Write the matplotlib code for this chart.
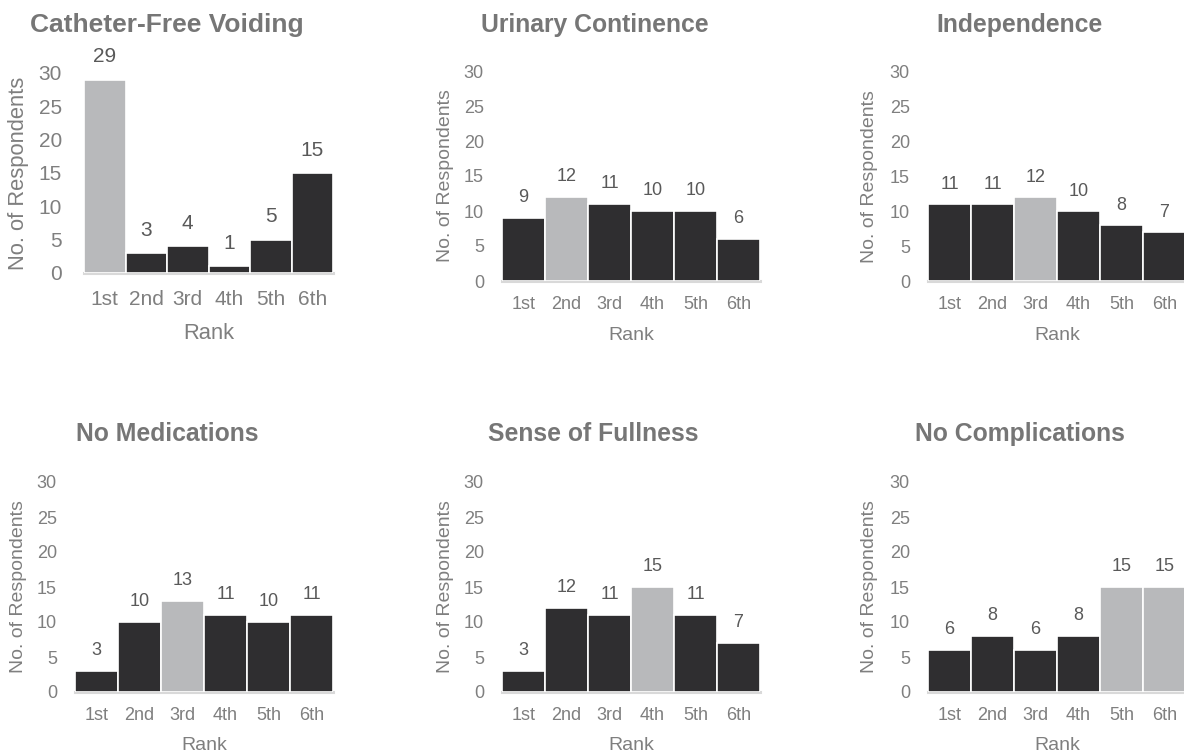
import numpy as np
import matplotlib
matplotlib.use('Agg')
import matplotlib.pyplot as plt

plt.rcParams['font.family'] = ['Liberation Sans', 'DejaVu Sans']

ranks = ['1st', '2nd', '3rd', '4th', '5th', '6th']
titles = ['Catheter-Free Voiding', 'Urinary Continence', 'Independence',
          'No Medications', 'Sense of Fullness', 'No Complications']
catheter = [29, 3, 4, 1, 5, 15]
continence = [9, 12, 11, 10, 10, 6]
independence = [11, 11, 12, 10, 8, 7]
medications = [3, 10, 13, 11, 10, 11]
fullness = [3, 12, 11, 15, 11, 7]
complications = [6, 8, 6, 8, 15, 15]
# which ranks are drawn in light grey
highlight = [[0], [1], [2], [2], [3], [4, 5]]
series = [catheter, continence, independence, medications, fullness, complications]

W, H = 1184, 754
DARK = '#2f2e30'
LIGHT = '#b8b9bb'
TXT = '#7f7f7f'
TITLE = '#767676'
VAL = '#595959'

# panel boxes in pixels: left, right, baseline y, y of 30
boxes = [(84, 333, 273, 73), (502, 760, 281, 71), (928, 1186, 281, 72),
         (75, 333, 692, 482), (502, 760, 692, 482), (928, 1186, 692, 482)]
# title centre, ylabel x
title_pos = [(167, 25), (595, 25), (1020, 25), (167, 434), (593, 434), (1020, 434)]
ylab_x = [19, 445, 870, 19, 445, 870]

fig = plt.figure(figsize=(W / 100, H / 100), dpi=100)

def fx(x):
    return x / W

def fy(y):
    return 1 - y / H

for k in range(6):
    l, r, y0, y30 = boxes[k]
    big = (k == 0)
    tick_fs = 15 if big else 13
    lab_fs = 15.8 if big else 14
    ax = fig.add_axes([fx(l), fy(y0), (r - l) / W, (y0 - y30) / H])
    vals = series[k]
    cols = [LIGHT if i in highlight[k] else DARK for i in range(6)]
    x = np.arange(6)
    ax.bar(x, vals, width=1.0, color=cols, edgecolor='white', linewidth=1.2, zorder=2)
    ax.axhline(0, color='#d9d9d9', lw=2.2, zorder=1, clip_on=False)
    ax.set_xlim(-0.5, 5.5)
    ax.set_ylim(0, 30)
    ax.set_yticks(range(0, 31, 5))
    ax.set_xticks(x)
    ax.set_xticklabels(ranks)
    for sp in ax.spines.values():
        sp.set_visible(False)
    ax.tick_params(length=0, colors=TXT, labelsize=tick_fs)
    ax.tick_params(axis='y', pad=16 if big else 13)
    ax.tick_params(axis='x', pad=12 if big else 10.5)
    for i, v in enumerate(vals):
        ax.annotate(str(v), (i, v), xytext=(0, 16.5 if big else 14.5),
                    textcoords='offset points', ha='center', va='center',
                    fontsize=tick_fs, color=VAL)
    tx, ty = title_pos[k]
    fig.text(fx(tx), fy(ty), titles[k], ha='center', va='center',
             fontsize=(19 if big else 17.8), fontweight='bold', color=TITLE)
    fig.text(fx(ylab_x[k]), fy((y0 + y30) / 2), 'No. of Respondents', rotation=90,
             ha='center', va='center', fontsize=lab_fs, color=TXT)
    fig.text(fx((l + r) / 2), fy(y0 + (60 if big else 54)), 'Rank', ha='center',
             va='center', fontsize=lab_fs, color=TXT)

fig.savefig('out.png', dpi=100)
